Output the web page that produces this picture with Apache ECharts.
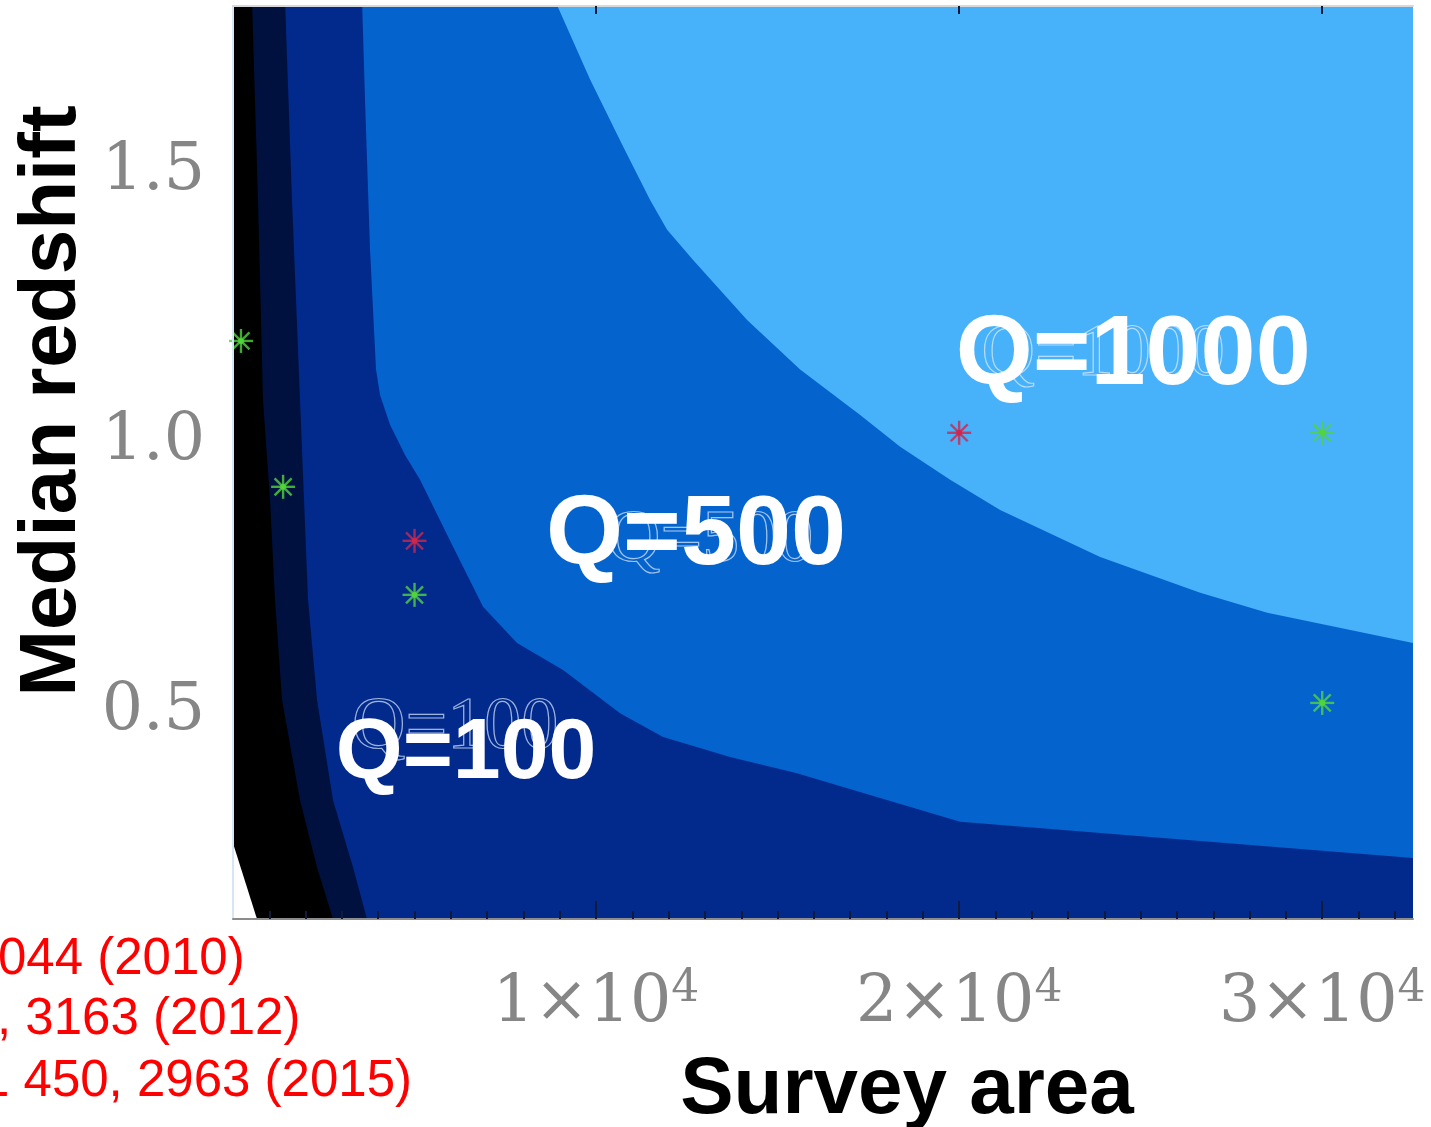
<!DOCTYPE html>
<html>
<head>
<meta charset="utf-8">
<title>Survey area vs median redshift</title>
<script src="https://cdn.jsdelivr.net/npm/echarts@6.0.0/dist/echarts.min.js"></script>
<style>
  html, body { margin: 0; padding: 0; background: #ffffff; }
  #chart { width: 1431px; height: 1127px; }
</style>
</head>
<body>
<div id="chart"></div>
<script>
// Axis extents: survey area (deg^2) and median redshift
const AREA_MIN = 0;
const AREA_MAX = 32500;
const Z_MIN = 0.1;
const Z_MAX = 1.79;

const areaTicks = [10000, 20000, 30000];
const areaMinorTicks = [1000, 2000, 3000, 4000, 5000, 6000, 7000, 8000, 9000, 10000,
  11000, 12000, 13000, 14000, 15000, 16000, 17000, 18000, 19000, 20000,
  21000, 22000, 23000, 24000, 25000, 26000, 27000, 28000, 29000, 30000,
  31000, 32000];
const redshiftTicks = [0.5, 1.0, 1.5];

// Contour boundaries as [area, z]; each band covers everything below / left of its curve
const contourQ1000 = [[0, 1.8], [8870, 1.8], [9835, 1.654], [10744, 1.53], [11488, 1.431],
  [11956, 1.376], [12672, 1.32], [14160, 1.209], [15620, 1.117], [17273, 1.033],
  [18375, 0.974], [19752, 0.913], [21129, 0.857], [23884, 0.77], [26639, 0.704],
  [28485, 0.667], [32500, 0.611]];
const contourQ500 = [[0, 1.8], [3554, 1.8], [3636, 1.617], [3774, 1.339], [3939, 1.117],
  [4050, 1.07], [4325, 1.015], [4738, 0.959], [5152, 0.913], [6061, 0.789],
  [6887, 0.678], [7824, 0.611], [9091, 0.561], [10661, 0.481], [11846, 0.437],
  [13691, 0.4], [15537, 0.37], [17080, 0.339], [20028, 0.28], [25262, 0.252],
  [32500, 0.213]];
const contourQ100 = [[0, 1.8], [1433, 1.8], [1625, 1.431], [1846, 1.061], [2066, 0.691],
  [2314, 0.506], [2755, 0.32], [3306, 0.196], [3691, 0.1]];
const contourQ50 = [[0, 1.8], [523, 1.8], [689, 1.431], [826, 1.061], [1019, 0.876],
  [1157, 0.691], [1350, 0.506], [1846, 0.32], [2314, 0.196], [2755, 0.1]];
const contourQ10 = [[0, 0.24], [661, 0.1]];

const contourLabels = ['Q=100', 'Q=500', 'Q=1000'];

// Surveys, [area, median z]
const redSurveys = [[5000, 0.8], [20000, 1.0]];
const greenSurveys = [[220, 1.17], [1380, 0.9], [5000, 0.7], [30000, 1.0], [30000, 0.5]];

const referenceLines = ['044 (2010)', ', 3163 (2012)', '1 450, 2963 (2015)'];

// ---------------------------------------------------------------------------
const BAND_COLORS = ['#0563ce', '#022a8c', '#00113f', '#000000', '#ffffff'];
const BACKGROUND_BAND = '#47b1f9';

const bands = [contourQ1000, contourQ500, contourQ100, contourQ50, contourQ10];

const bandSeries = bands.map((pts, i) => ({
  type: 'line',
  data: pts,
  xAxisIndex: 0,
  yAxisIndex: 0,
  symbol: 'none',
  silent: true,
  smooth: false,
  lineStyle: { width: 0 },
  areaStyle: { color: BAND_COLORS[i], opacity: 1, origin: 'start' },
  z: 2 + i * 0.01
}));

// label anchors in data space (centre of the text)
const labelAnchors = [[6419, 0.404], [12755, 0.807], [24793, 1.141]];
const labelSizes = [86, 99, 99];
const ghostAnchors = [[6116, 0.452], [13140, 0.798], [23967, 1.143]];

function asteriskSeries(points, color) {
  return {
    type: 'custom',
    xAxisIndex: 0,
    yAxisIndex: 0,
    data: points,
    silent: true,
    z: 6,
    renderItem: function (params, api) {
      const c = api.coord([api.value(0), api.value(1)]);
      const r = 12;
      const children = [];
      for (let k = 0; k < 4; k++) {
        const a = k * Math.PI / 4;
        const dx = r * Math.cos(a), dy = r * Math.sin(a);
        children.push({
          type: 'line',
          shape: { x1: c[0] - dx, y1: c[1] - dy, x2: c[0] + dx, y2: c[1] + dy },
          style: { stroke: color, lineWidth: 2.4, opacity: 0.8 }
        });
      }
      children.push({ type: 'circle', shape: { cx: c[0], cy: c[1], r: 2.8 }, style: { fill: color } });
      return { type: 'group', children: children };
    }
  };
}

const ghostSeries = {
  type: 'custom',
  xAxisIndex: 0,
  yAxisIndex: 0,
  data: ghostAnchors,
  silent: true,
  z: 7,
  renderItem: function (params, api) {
    const c = api.coord([api.value(0), api.value(1)]);
    return {
      type: 'text',
      x: c[0], y: c[1],
      style: {
        text: contourLabels[params.dataIndex],
        font: 'normal 74px "Liberation Serif"',
        fill: 'rgba(0,0,0,0)',
        stroke: 'rgba(225,238,255,0.7)',
        lineWidth: 1.2,
        align: 'center',
        verticalAlign: 'middle'
      }
    };
  }
};

const labelSeries = {
  type: 'custom',
  xAxisIndex: 0,
  yAxisIndex: 0,
  data: labelAnchors,
  silent: true,
  z: 8,
  renderItem: function (params, api) {
    const c = api.coord([api.value(0), api.value(1)]);
    return {
      type: 'text',
      x: c[0], y: c[1],
      style: {
        text: contourLabels[params.dataIndex],
        font: 'bold ' + labelSizes[params.dataIndex] + 'px "Liberation Sans"',
        fill: '#ffffff',
        align: 'center',
        verticalAlign: 'middle'
      }
    };
  }
};

const TICK_COLOR = '#111a38';
const LABEL_GREY = '#868686';

const option = {
  animation: false,
  backgroundColor: '#ffffff',
  grid: {
    left: 233, right: 18, top: 6, bottom: 208,
    show: true, backgroundColor: BACKGROUND_BAND, borderWidth: 0
  },
  xAxis: [
    {
      type: 'value', position: 'bottom', min: AREA_MIN, max: AREA_MAX, z: 10,
      splitLine: { show: false },
      axisLine: { show: true, lineStyle: { color: '#8c8c8c', width: 2 } },
      axisTick: { show: true, inside: true, length: 8, customValues: areaMinorTicks,
        lineStyle: { color: TICK_COLOR, width: 2 } },
      axisLabel: {
        show: true, customValues: areaTicks, margin: 49,
        formatter: function (v) { return '{m|' + (v / 10000) + '×10}{e|4}'; },
        rich: {
          m: { fontFamily: 'DejaVu Serif', fontSize: 65, color: LABEL_GREY, lineHeight: 72 },
          e: { fontFamily: 'DejaVu Serif', fontSize: 44, color: LABEL_GREY, lineHeight: 24,
            verticalAlign: 'top' }
        }
      }
    },
    {
      type: 'value', position: 'bottom', min: AREA_MIN, max: AREA_MAX, z: 10,
      splitLine: { show: false }, axisLine: { show: false }, axisLabel: { show: false },
      axisTick: { show: true, inside: true, length: 18, customValues: areaTicks,
        lineStyle: { color: TICK_COLOR, width: 2 } }
    },
    {
      type: 'value', position: 'top', min: AREA_MIN, max: AREA_MAX, z: 10,
      splitLine: { show: false }, axisLabel: { show: false },
      axisLine: { show: true, lineStyle: { color: '#d8d8d8', width: 2 } },
      axisTick: { show: true, inside: true, length: 8, customValues: areaTicks,
        lineStyle: { color: TICK_COLOR, width: 2 } }
    }
  ],
  yAxis: [
    {
      type: 'value', position: 'left', min: Z_MIN, max: Z_MAX, z: 10,
      splitLine: { show: false },
      axisLine: { show: true, lineStyle: { color: '#9a9a9a', width: 2 } },
      axisTick: { show: false },
      axisLabel: {
        show: true, customValues: redshiftTicks, margin: 28,
        verticalAlign: 'top', lineHeight: 18,
        formatter: function (v) { return v.toFixed(1); },
        fontFamily: 'DejaVu Serif', fontSize: 65, color: LABEL_GREY
      }
    },
    {
      type: 'value', position: 'right', min: Z_MIN, max: Z_MAX, z: 10,
      splitLine: { show: false }, axisLabel: { show: false }, axisTick: { show: false },
      axisLine: { show: true, lineStyle: { color: '#d5e6f5', width: 2 } }
    }
  ],
  series: bandSeries.concat([
    asteriskSeries(redSurveys, '#d0264c'),
    asteriskSeries(greenSurveys, '#52d43c'),
    ghostSeries,
    labelSeries
  ]),
  graphic: [
    {
      type: 'text', x: 53, y: 401, rotation: Math.PI / 2,
      style: { text: 'Median redshift', font: 'bold 80px "Liberation Sans"', fill: '#000000',
        align: 'center', verticalAlign: 'middle' }
    },
    {
      type: 'text', x: 907, y: 1091,
      style: { text: 'Survey area', font: 'bold 80px "Liberation Sans"', fill: '#000000',
        align: 'center', verticalAlign: 'middle' }
    },
    {
      type: 'text', x: -2, y: 960,
      style: { text: referenceLines[0], font: '51px "Liberation Sans"', fill: '#ff0000',
        align: 'left', verticalAlign: 'middle' }
    },
    {
      type: 'text', x: -3, y: 1020,
      style: { text: referenceLines[1], font: '51px "Liberation Sans"', fill: '#ff0000',
        align: 'left', verticalAlign: 'middle' }
    },
    {
      type: 'text', x: -19, y: 1082,
      style: { text: referenceLines[2], font: '51px "Liberation Sans"', fill: '#ff0000',
        align: 'left', verticalAlign: 'middle' }
    }
  ]
};

const chart = echarts.init(document.getElementById('chart'), null, { renderer: 'canvas' });
chart.setOption(option);
</script>
</body>
</html>
